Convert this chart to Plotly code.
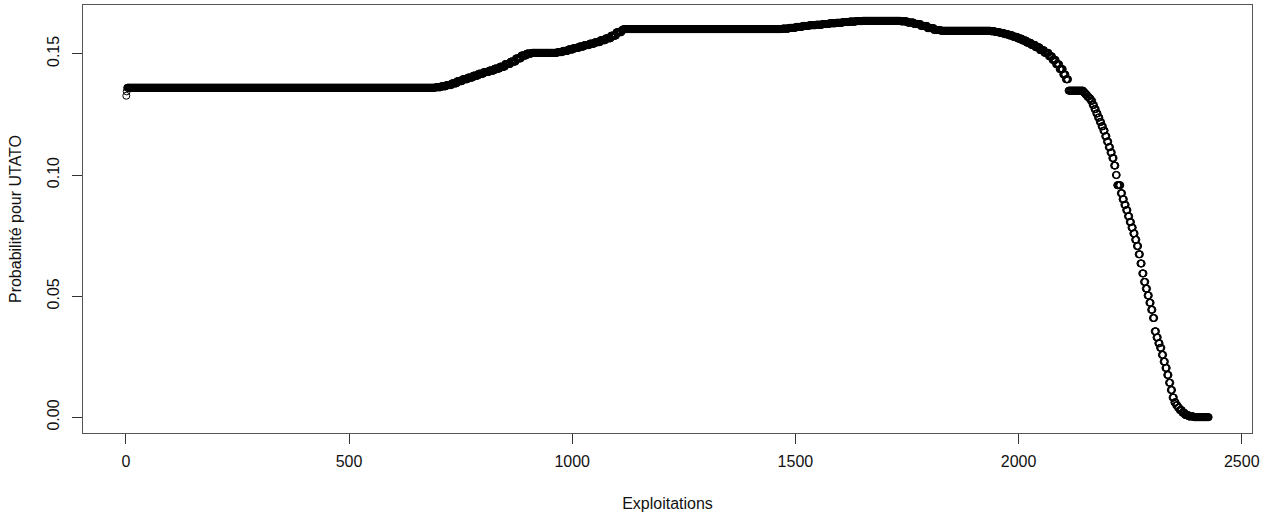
import numpy as np
import plotly.graph_objects as go

# Run-length encoded series: value of each run and how many
# consecutive "Exploitations" share it.
run_values = [
    0.1327, 0.1345, 0.1360,
    0.1362, 0.1366, 0.1371, 0.1378, 0.1387, 0.1395, 0.1402, 0.1410, 0.1418,
    0.1425, 0.1431, 0.1439, 0.1447, 0.1458, 0.1468, 0.1481, 0.1493, 0.1501,
    0.1504,
    0.1507, 0.1512, 0.1518, 0.1524, 0.1530, 0.1536, 0.1542, 0.1548, 0.1556,
    0.1564, 0.1575, 0.1589,
    0.1598, 0.1602,
    0.1604, 0.1607, 0.1611, 0.1615, 0.1618, 0.1620, 0.1623, 0.1626, 0.1628,
    0.1631, 0.1633, 0.1635,
    0.1636,
    0.1634, 0.1629, 0.1623, 0.1615, 0.1606, 0.1598,
    0.1595,
    0.1593, 0.1590, 0.1586, 0.1581, 0.1576, 0.1570, 0.1563, 0.1555, 0.1546,
    0.1537, 0.1527, 0.1515, 0.1504,
    0.1490, 0.1475, 0.1457, 0.1437,
    0.1415, 0.1395,
    0.1348,
    0.1340, 0.1332, 0.1323, 0.1316, 0.1306, 0.1289, 0.1272, 0.1254, 0.1237,
    0.1219, 0.1201, 0.1183, 0.1160, 0.1138, 0.1115, 0.1093, 0.1070, 0.1039,
    0.1000, 0.0958,
    0.0925, 0.0900, 0.0877, 0.0855, 0.0830, 0.0806, 0.0783, 0.0759, 0.0733,
    0.0707, 0.0673, 0.0635, 0.0594, 0.0559, 0.0531, 0.0503, 0.0473, 0.0444,
    0.0410, 0.0355, 0.0330, 0.0306, 0.0287, 0.0258, 0.0230, 0.0204, 0.0175,
    0.0143, 0.0113, 0.0082, 0.0062, 0.0050, 0.0040,
    0.0030, 0.0019, 0.0010, 0.0004, 0.0001,
]
run_lengths = [
    1, 1, 691,
    12, 12, 12, 12, 12, 12, 12, 12, 12,
    12, 12, 12, 12, 12, 12, 12, 12, 12,
    57,
    12, 12, 12, 12, 12, 12, 12, 12, 12,
    12, 12, 12,
    4, 356,
    15, 15, 15, 15, 15, 15, 15, 15, 15,
    15, 15, 15,
    85,
    15, 15, 15, 15, 15, 15,
    112,
    10, 10, 10, 10, 10, 10, 10, 10, 10,
    10, 10, 10, 10,
    8, 8, 8, 8,
    6, 6,
    34,
    4, 4, 4, 4, 4, 4, 4, 4, 4,
    4, 4, 4, 4, 4, 4, 4, 4, 4,
    3, 8,
    4, 4, 4, 4, 4, 4, 4, 4, 4,
    4, 4, 4, 4, 4, 4, 4, 4, 4,
    4, 4, 4, 4, 4, 4, 4, 4, 4,
    4, 4, 4, 4, 4, 4,
    6, 6, 8, 12, 34,
]

x_ticks = [0, 500, 1000, 1500, 2000, 2500]
y_ticks = [0.00, 0.05, 0.10, 0.15]
y_tick_labels = ["0.00", "0.05", "0.10", "0.15"]
x_title = "Exploitations"
y_title = "Probabilité pour UTATO"

prob = np.repeat(run_values, run_lengths)
idx = np.arange(1, len(prob) + 1)

# R-style 4% axis padding
xspan = idx.max() - idx.min()
yspan = prob.max() - prob.min()
xr = [idx.min() - 0.04 * xspan, idx.max() + 0.04 * xspan]
yr = [prob.min() - 0.04 * yspan, prob.max() + 0.04 * yspan]

font = dict(family="Liberation Sans, Arial, sans-serif", size=16, color="#111")

fig = go.Figure()
fig.add_trace(go.Scatter(
    x=idx, y=prob, mode="markers",
    marker=dict(symbol="circle-open", size=7, color="black", line=dict(width=1, color="black")),
    hoverinfo="x+y", showlegend=False,
))

fig.update_layout(
    width=1271, height=519,
    margin=dict(l=83, r=19, t=5, b=86),
    paper_bgcolor="white", plot_bgcolor="white",
    font=font,
    xaxis=dict(
        range=xr, tickvals=x_ticks, ticktext=[str(v) for v in x_ticks],
        ticks="outside", ticklen=10, tickcolor="#333", tickwidth=1,
        showline=True, mirror=True, linecolor="#555", linewidth=1,
        showgrid=False, zeroline=False, tickfont=font, ticklabelstandoff=4,
        title=dict(text=x_title, font=font, standoff=28),
    ),
    yaxis=dict(
        range=yr, tickvals=y_ticks, ticktext=y_tick_labels, tickangle=-90,
        ticks="outside", ticklen=10, tickcolor="#333", tickwidth=1,
        showline=True, mirror=True, linecolor="#555", linewidth=1,
        showgrid=False, zeroline=False, tickfont=font, ticklabelstandoff=7,
        title=dict(text=y_title, font=font, standoff=18),
    ),
)

fig.write_html(
    "out.html",
    config={"displayModeBar": False},
    post_script="document.body.style.margin='0';document.body.style.padding='0';",
)
